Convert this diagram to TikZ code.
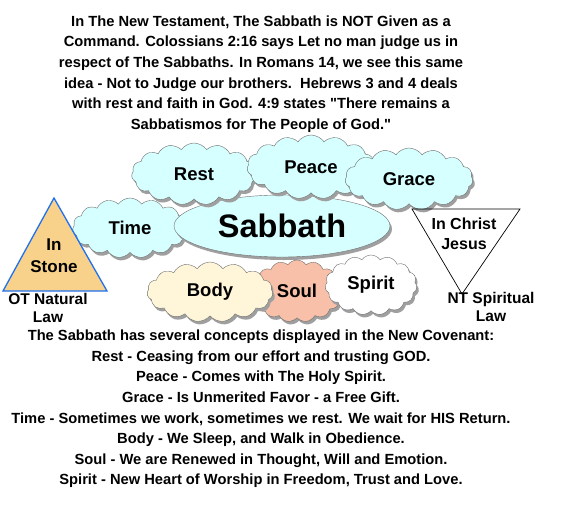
\documentclass[tikz,border=0pt]{standalone}
\usepackage{fontspec}
\setmainfont{Liberation Sans}[Ligatures=TeXOff]
\usetikzlibrary{shapes.symbols,shapes.geometric,shadows}
\definecolor{skyfill}{RGB}{214,255,255}
\definecolor{creamfill}{RGB}{255,246,218}
\definecolor{salmonfill}{RGB}{248,192,168}
\definecolor{stonefill}{RGB}{248,210,138}
\definecolor{stoneblue}{RGB}{32,112,240}
\definecolor{puffgray}{RGB}{110,110,110}

\begin{document}
\begin{tikzpicture}[x=1pt, y=-1pt,
    puff/.style={cloud, cloud puffs=15, cloud puff arc=110, cloud ignores aspect, draw=puffgray, fill=skyfill, inner sep=0pt, font=\fontsize{18.5}{20}\selectfont\bfseries, drop shadow={shadow xshift=2pt, shadow yshift=-3pt, fill=gray!75, opacity=1}},
    para/.style={align=center, font=\fontsize{14.7}{20.6}\selectfont\bfseries},
    lawlabel/.style={align=center, font=\fontsize{15.5}{18.5}\selectfont\bfseries}
]
    \useasboundingbox[fill=white] (0,0) rectangle (577,509);

    % heading text
    \node[para] (intro) at (261,74) {In The New Testament, The Sabbath is NOT Given as a\\Command. Colossians 2:16 says Let no man judge us in\\respect of The Sabbaths. In Romans 14, we see this same\\idea - Not to Judge our brothers.\ \ Hebrews 3 and 4 deals\\with rest and faith in God. 4:9 states "There remains a\\Sabbatismos for The People of God."};

    % upper clouds
    \node[puff, minimum width=115, minimum height=60] (time) at (130,228) {Time};
    \node[ellipse, draw=puffgray, fill=skyfill, minimum width=216, minimum height=62, font=\fontsize{32.5}{34}\selectfont\bfseries, drop shadow={shadow xshift=2pt, shadow yshift=-3pt, fill=gray!75, opacity=1}] (sabbath) at (282,226) {Sabbath};
    \node[puff, minimum width=125, minimum height=62] (rest) at (194,174) {Rest};
    \node[puff, minimum width=128, minimum height=64] (peace) at (311,167) {Peace};
    \node[puff, minimum width=128, minimum height=62] (grace) at (409,179) {Grace};

    % lower clouds
    \node[puff, fill=salmonfill, minimum width=92, minimum height=62] (soul) at (297,291) {Soul};
    \node[puff, fill=creamfill, minimum width=126, minimum height=60] (body) at (210,292) {Body};
    \node[puff, fill=white, minimum width=92, minimum height=60] (spirit) at (371,285) {Spirit};

    % old covenant
    \coordinate (stonetop) at (54,198);
    \coordinate (stoneleft) at (3,291);
    \coordinate (stoneright) at (107,291);
    \draw[stoneblue, fill=stonefill, line width=1.3] (stonetop) -- (stoneleft) -- (stoneright) -- cycle;
    \node[align=center, font=\fontsize{17}{22}\selectfont\bfseries] (stone) at (54,256) {In\\Stone};
    \node[lawlabel] (otlaw) at (48,308) {OT Natural\\Law};

    % new covenant
    \coordinate (christleft) at (412,209);
    \coordinate (christright) at (520,209);
    \coordinate (christtip) at (462,294);
    \draw[black, line width=0.7] (christleft) -- (christright) -- (christtip) -- cycle;
    \node[align=center, font=\fontsize{16}{20}\selectfont\bfseries] (christ) at (464,234) {In Christ\\Jesus};
    \node[lawlabel] (ntlaw) at (491,307) {NT Spiritual\\Law};

    % closing text
    \node[para] (concepts) at (261,409) {The Sabbath has several concepts displayed in the New Covenant:\\Rest - Ceasing from our effort and trusting GOD.\\Peace - Comes with The Holy Spirit.\\Grace - Is Unmerited Favor - a Free Gift.\\Time - Sometimes we work, sometimes we rest. We wait for HIS Return.\\Body - We Sleep, and Walk in Obedience.\\Soul - We are Renewed in Thought, Will and Emotion.\\Spirit - New Heart of Worship in Freedom, Trust and Love.};
\end{tikzpicture}
\end{document}
